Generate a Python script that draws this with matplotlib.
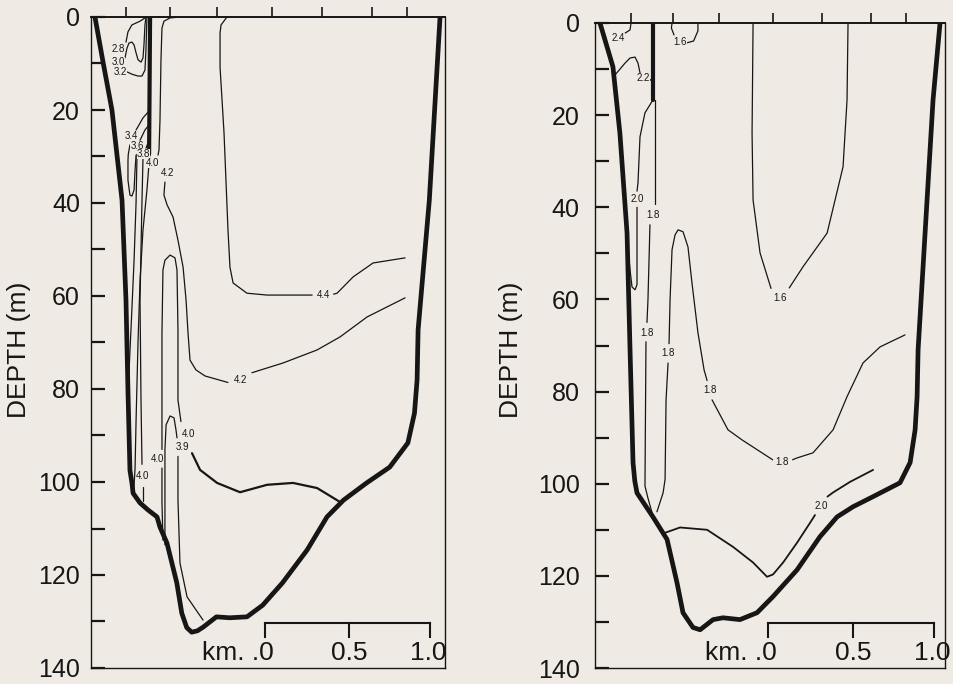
import matplotlib
matplotlib.use("Agg")
import matplotlib.pyplot as plt

BG = "#efeae3"
INK = "#161616"
plt.rcParams['font.family'] = ['Liberation Sans', 'DejaVu Sans']

# ---------------- shared axis data ----------------
depth_major = [0, 20, 40, 60, 80, 100, 120, 140]
depth_minor = [10, 30, 50, 70, 90, 110, 130]
scale_ticks_L = [1.055, 1.564, 2.055]
scale_ticks_R = [1.042, 1.554, 2.042]
scale_labels = ["km. .0", "0.5", "1.0"]

# ---------------- left section (km, depth m) ----------------
L_stations = [0.212, 0.479, 0.764, 1.097, 1.40, 1.703, 1.915]
L_shore_x = [0.024, 0.073, 0.127, 0.188, 0.212, 0.224, 0.236, 0.248, 0.255, 0.297, 0.345,
             0.40, 0.418, 0.46, 0.52, 0.55, 0.58, 0.61, 0.645, 0.68, 0.76, 0.84,
             0.945, 1.04, 1.16, 1.31, 1.43, 1.53, 1.67, 1.81, 1.92, 1.96,
             1.976, 1.982, 2.05, 2.115]
L_shore_d = [0, 9.7, 20, 39.4, 60.9, 80.4, 97.5, 100.2, 102.4, 104.5, 106,
             107.5, 109.7, 113.1, 121.7, 128.2, 131.3, 132.3, 132.0, 131.2, 129, 129.2,
             129, 126.5, 121.7, 114.6, 107.5, 103.9, 100.2, 96.8, 91.6, 85.2,
             78, 67.3, 39.4, 0]
L_thick_x = [0.358, 0.352]
L_thick_d = [0, 29.5]
L_t1_x = [0.356, 0.339, 0.315, 0.297, 0.285, 0.273, 0.267, 0.258]
L_t1_d = [29.5, 37.2, 45.8, 56.8, 69.8, 86.9, 97.0, 102.4]
L_c28_x = [0.327, 0.297, 0.248, 0.224, 0.212]
L_c28_d = [0.2, 0.9, 1.7, 3.2, 5.4]
L_c30_x = [0.206, 0.218, 0.23, 0.248, 0.261, 0.273, 0.285, 0.303, 0.315, 0.321, 0.327, 0.333]
L_c30_d = [8.8, 6.7, 5.6, 5.4, 6.0, 7.7, 9.2, 9.7, 8.8, 6.0, 1.7, 0]
L_c32_x = [0.218, 0.248, 0.285, 0.309, 0.327, 0.333, 0.339]
L_c32_d = [11.8, 12.3, 12.7, 12.7, 11.4, 7.1, 0]
L_c34_x = [0.352, 0.315, 0.291, 0.273]
L_c34_d = [20.2, 21.7, 23.2, 24.3]
L_c34b_x = [0.236, 0.226, 0.224, 0.224, 0.236, 0.248, 0.261, 0.267, 0.273]
L_c34b_d = [27.5, 29.5, 30.8, 35.1, 38.3, 38.5, 37.2, 32.9, 29.7]
L_c36_x = [0.297, 0.327, 0.352]
L_c36_d = [26.5, 24.3, 23.2]
L_c36b_x = [0.279, 0.273, 0.261, 0.245, 0.232, 0.226]
L_c36b_d = [29.5, 40.0, 52.3, 65.0, 75.0, 82.0]
L_c38_x = [0.333, 0.352]
L_c38_d = [28.2, 26.5]
L_c38b_x = [0.315, 0.309, 0.303, 0.297, 0.303, 0.309]
L_c38b_d = [30.5, 39.4, 50.0, 60.9, 82.4, 96.2]
L_c38c_x = [0.315, 0.315]
L_c38c_d = [101.0, 104.0]
L_c40top_x = [0.539, 0.479, 0.442, 0.43, 0.424, 0.418, 0.412, 0.406]
L_c40top_d = [0, 0.2, 0.9, 2.4, 9.2, 22.2, 28.6, 29.7]
L_c42_x = [0.448, 0.442, 0.461, 0.497, 0.527, 0.558, 0.576, 0.588, 0.60, 0.636, 0.691, 0.83]
L_c42_d = [35.5, 38.3, 40.4, 43.0, 48.0, 53.8, 60.9, 68.0, 73.8, 75.9, 77.2, 78.6]
L_c42b_x = [0.975, 1.164, 1.37, 1.509, 1.673, 1.903]
L_c42b_d = [76.5, 74.4, 71.6, 68.8, 64.5, 60.4]
L_c44_x = [0.824, 0.788, 0.782, 0.782, 0.806, 0.83, 0.842, 0.861, 0.945, 1.067, 1.34]
L_c44_d = [0, 1.7, 3.4, 10.8, 24.9, 45.8, 53.8, 57.2, 59.4, 59.8, 59.8]
L_c44b_x = [1.47, 1.491, 1.588, 1.709, 1.903]
L_c44b_d = [59.6, 59.4, 55.9, 52.9, 51.8]
L_c40t_x = [0.43, 0.43, 0.43, 0.436, 0.448, 0.479, 0.509, 0.521, 0.527, 0.527, 0.545]
L_c40t_d = [93.0, 82.4, 68.0, 54.4, 52.3, 51.2, 51.8, 54.4, 67.3, 82.4, 87.0]
L_c40u_x = [0.43, 0.43, 0.436]
L_c40u_d = [97.0, 104.3, 112.5]
L_c40loop_x = [0.612, 0.661, 0.764, 0.903, 1.067, 1.224, 1.37, 1.509]
L_c40loop_d = [93.8, 97.4, 100.2, 102.2, 100.6, 100.2, 101.3, 104.3]
L_c39_x = [0.448, 0.448, 0.455, 0.479, 0.503, 0.515, 0.521]
L_c39_d = [113.5, 93.1, 87.7, 85.8, 86.2, 88.8, 90.5]
L_c39b_x = [0.527, 0.527, 0.539, 0.582, 0.679]
L_c39b_d = [94.5, 103.9, 117.4, 124.7, 129.7]
L_lab_text = ["2.8", "3.0", "3.2", "3.4", "3.6", "3.8", "4.0", "4.2",
              "4.4", "4.2", "4.0", "3.9", "4.0", "4.0"]
L_lab_x = [0.164, 0.164, 0.176, 0.245, 0.279, 0.318, 0.375, 0.461,
           1.406, 0.903, 0.588, 0.552, 0.40, 0.315]
L_lab_d = [6.9, 9.7, 11.8, 25.6, 27.7, 29.5, 31.4, 33.5,
           59.8, 78.1, 89.7, 92.5, 95.1, 98.7]

# ---------------- right section (km, depth m) ----------------
R_stations = [0.217, 0.47, 0.747, 1.072, 1.367, 1.663, 1.873]
R_shore_x = [0.03, 0.108, 0.15, 0.193, 0.211, 0.229, 0.24, 0.253, 0.349, 0.434, 0.494,
             0.53, 0.59, 0.633, 0.711, 0.771, 0.873, 0.976, 1.072, 1.217, 1.355,
             1.458, 1.554, 1.675, 1.837, 1.898, 1.928, 1.94, 1.946, 2.0, 2.036, 2.078]
R_shore_d = [0, 9.5, 23.9, 45.6, 70.9, 95.4, 99.5, 102, 107.2, 112.1, 121.5,
             128, 131.2, 131.7, 129.5, 129.1, 129.5, 128, 124.5, 118.7, 111.5,
             107.2, 105, 102.8, 99.8, 95.4, 88.3, 81.1, 70.9, 38.4, 16.7, 0]
R_thick_x = [0.349, 0.349]
R_thick_d = [0, 16.7]
R_c24_x = [0.217, 0.211, 0.181]
R_c24_d = [0, 1.5, 2.2]
R_c22_x = [0.12, 0.181, 0.211, 0.241, 0.259, 0.271]
R_c22_d = [11.3, 8.7, 7.6, 7.4, 8.7, 10.8]
R_c22b_x = [0.319, 0.343]
R_c22b_d = [12.8, 12.1]
R_c20_x = [0.349, 0.301, 0.271, 0.259, 0.253]
R_c20_d = [16.7, 19.5, 24.7, 34.7, 36.5]
R_c20b_x = [0.253, 0.253, 0.241, 0.223, 0.211, 0.199]
R_c20b_d = [40.0, 56.8, 57.9, 57.3, 53.6, 49.2]
R_c18_x = [0.361, 0.361]
R_c18_d = [16.7, 39.3]
R_c18b_x = [0.331, 0.319, 0.313]
R_c18b_d = [43.8, 60.1, 65.0]
R_c18c_x = [0.307, 0.301, 0.318, 0.345]
R_c18c_d = [69.2, 100.5, 103.0, 106.5]
R_c18t_x = [0.373, 0.41, 0.422, 0.428, 0.44]
R_c18t_d = [106.1, 102.0, 99.1, 81.8, 73.8]
R_c18u_x = [0.446, 0.452, 0.464, 0.482, 0.50, 0.53, 0.56, 0.584, 0.62, 0.657, 0.675]
R_c18u_d = [69.6, 60.1, 49.2, 46.0, 44.9, 45.3, 48.6, 56.4, 67.2, 75.3, 77.6]
R_c18v_x = [0.705, 0.801, 0.886, 1.07]
R_c18v_d = [81.8, 88.3, 90.5, 94.8]
R_c18w_x = [1.19, 1.217, 1.313, 1.434, 1.518, 1.614, 1.717, 1.867]
R_c18w_d = [94.8, 94.4, 93.3, 88.3, 81.1, 73.8, 70.3, 67.7]
R_c16s_x = [0.464, 0.46, 0.476]
R_c16s_d = [0, 1.1, 2.6]
R_c16sb_x = [0.554, 0.594, 0.62, 0.62]
R_c16sb_d = [4.3, 3.9, 1.7, 0]
R_c16_x = [0.952, 0.946, 0.952, 0.994, 1.06]
R_c16_d = [0, 23.9, 38.4, 49.9, 57.6]
R_c16b_x = [1.17, 1.253, 1.398, 1.494, 1.518, 1.524]
R_c16b_d = [57.5, 52.9, 45.6, 31.2, 16.7, 0]
R_c20bot_x = [0.41, 0.512, 0.675, 0.831, 0.952, 1.036, 1.072, 1.133, 1.217, 1.295, 1.325]
R_c20bot_d = [110.8, 109.5, 110.0, 113.7, 117.1, 120.2, 119.7, 117.1, 112.8, 108.5, 106.8]
R_c20bot2_x = [1.40, 1.434, 1.536, 1.675]
R_c20bot2_d = [102.8, 101.9, 99.6, 97.0]
R_lab_text = ["2.4", "2.2", "1.6", "2.0", "1.8", "1.8", "1.8", "1.8", "1.8", "1.6", "2.0"]
R_lab_x = [0.139, 0.29, 0.512, 0.253, 0.352, 0.313, 0.44, 0.69, 1.127, 1.114, 1.36]
R_lab_d = [3.3, 12.0, 4.1, 38.2, 41.6, 67.2, 71.6, 79.6, 95.2, 59.7, 104.8]


def line(ax, xs, ds, lw=0.9):
    ax.plot(xs, ds, color=INK, lw=lw, solid_capstyle='round', solid_joinstyle='round', zorder=3)


def labels(ax, texts, xs, ds):
    for t, x, d in zip(texts, xs, ds):
        ax.text(x, d, t, fontsize=7, color=INK, ha='center', va='center', zorder=5,
                bbox=dict(boxstyle='square,pad=0.0', fc=BG, ec='none'))


def frame(ax, xmax, stations, scale_ticks, tick_pad):
    ax.set_facecolor(BG)
    ax.set_xlim(0, xmax)
    ax.set_ylim(140, 0)
    ax.set_yticks(depth_major)
    ax.set_yticks(depth_minor, minor=True)
    ax.set_yticklabels([str(v) for v in depth_major])
    ax.tick_params(axis='y', which='both', direction='in', length=10, width=1.6,
                   pad=tick_pad, labelsize=18, colors=INK)
    ax.xaxis.set_ticks_position('top')
    ax.set_xticks(stations)
    ax.tick_params(axis='x', direction='out', length=7, width=1.2,
                   labeltop=False, labelbottom=False, colors=INK)
    for s in ax.spines.values():
        s.set_color(INK)
        s.set_linewidth(1.0)
    ax.spines['top'].set_linewidth(1.4)
    # scale bar
    ybar, ytick, ytext = 130.3, 133.3, 136.8
    ax.plot([scale_ticks[0], scale_ticks[-1]], [ybar, ybar], color=INK, lw=1.5, zorder=3)
    for xt in scale_ticks:
        ax.plot([xt, xt], [ybar, ytick], color=INK, lw=1.5, zorder=3)
    ax.text(scale_ticks[0] + 0.05, ytext, scale_labels[0], ha='right', va='center',
            fontsize=19, color=INK)
    ax.text(scale_ticks[1], ytext, scale_labels[1], ha='center', va='center', fontsize=19, color=INK)
    ax.text(scale_ticks[2] - 0.01, ytext, scale_labels[2], ha='center', va='center', fontsize=19, color=INK)


fig = plt.figure(figsize=(9.54, 6.84), dpi=100)
fig.patch.set_facecolor(BG)
axL = fig.add_axes([91 / 954, 16 / 684, 354 / 954, 651 / 684])
axR = fig.add_axes([595 / 954, 16 / 684, 350 / 954, 645 / 684])

frame(axL, 2.145, L_stations, scale_ticks_L, 8)
frame(axR, 2.108, R_stations, scale_ticks_R, 11)

# left section
line(axL, L_shore_x, L_shore_d, 3.4)
line(axL, L_thick_x, L_thick_d, 3.0)
for xs, ds in [(L_t1_x, L_t1_d), (L_c28_x, L_c28_d), (L_c30_x, L_c30_d), (L_c32_x, L_c32_d),
               (L_c34_x, L_c34_d), (L_c34b_x, L_c34b_d), (L_c36_x, L_c36_d), (L_c36b_x, L_c36b_d),
               (L_c38_x, L_c38_d), (L_c38b_x, L_c38b_d), (L_c38c_x, L_c38c_d),
               (L_c40top_x, L_c40top_d), (L_c42_x, L_c42_d), (L_c42b_x, L_c42b_d),
               (L_c44_x, L_c44_d), (L_c44b_x, L_c44b_d), (L_c40t_x, L_c40t_d),
               (L_c40u_x, L_c40u_d), (L_c39_x, L_c39_d), (L_c39b_x, L_c39b_d)]:
    line(axL, xs, ds)
line(axL, L_c40loop_x, L_c40loop_d, 1.6)
labels(axL, L_lab_text, L_lab_x, L_lab_d)

# right section
line(axR, R_shore_x, R_shore_d, 3.4)
line(axR, R_thick_x, R_thick_d, 3.0)
for xs, ds in [(R_c24_x, R_c24_d), (R_c22_x, R_c22_d), (R_c22b_x, R_c22b_d),
               (R_c20_x, R_c20_d), (R_c20b_x, R_c20b_d), (R_c18_x, R_c18_d),
               (R_c18b_x, R_c18b_d), (R_c18c_x, R_c18c_d), (R_c18t_x, R_c18t_d),
               (R_c18u_x, R_c18u_d), (R_c18v_x, R_c18v_d), (R_c18w_x, R_c18w_d),
               (R_c16s_x, R_c16s_d), (R_c16sb_x, R_c16sb_d), (R_c16_x, R_c16_d),
               (R_c16b_x, R_c16b_d)]:
    line(axR, xs, ds)
line(axR, R_c20bot_x, R_c20bot_d, 1.3)
line(axR, R_c20bot2_x, R_c20bot2_d, 1.3)
labels(axR, R_lab_text, R_lab_x, R_lab_d)

fig.text(19 / 954, 1 - 350 / 684, "DEPTH (m)", rotation=90, ha='center', va='center',
         fontsize=19, color=INK)
fig.text(511 / 954, 1 - 350 / 684, "DEPTH (m)", rotation=90, ha='center', va='center',
         fontsize=19, color=INK)

fig.savefig("out.png", dpi=100, facecolor=BG)
